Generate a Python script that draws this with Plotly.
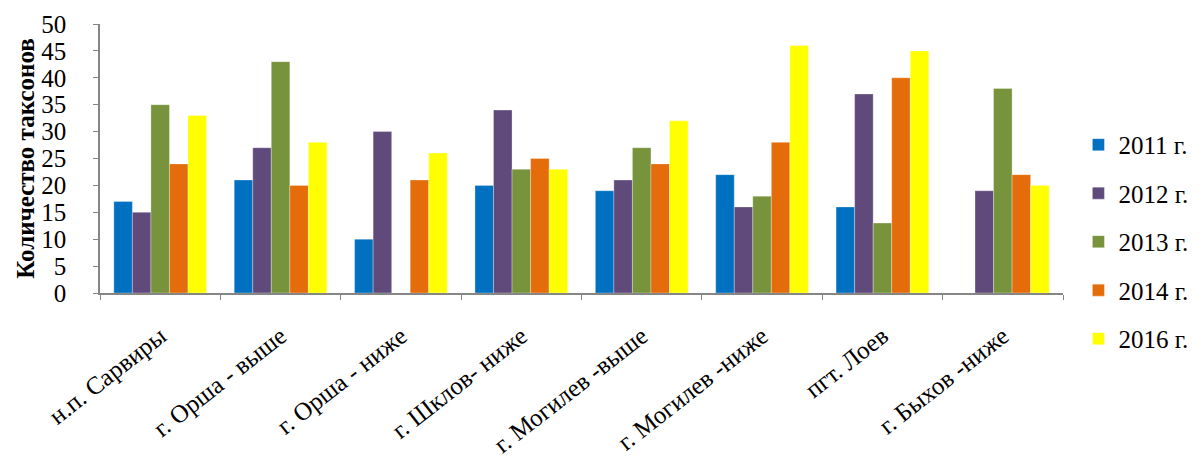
import plotly.graph_objects as go

categories = ["н.п. Сарвиры", "г. Орша - выше", "г. Орша - ниже", "г. Шклов- ниже",
              "г. Могилев -выше", "г. Могилев -ниже", "пгт. Лоев", "г. Быхов -ниже"]
y2011 = [17, 21, 10, 20, 19, 22, 16, None]
y2012 = [15, 27, 30, 34, 21, 16, 37, 19]
y2013 = [35, 43, None, 23, 27, 18, 13, 38]
y2014 = [24, 20, 21, 25, 24, 28, 40, 22]
y2016 = [33, 28, 26, 23, 32, 46, 45, 20]
series_names = ["2011 г.", "2012 г.", "2013 г.", "2014 г.", "2016 г."]
colors = ["#0070C0", "#604A7B", "#77933C", "#E46C0A", "#FFFF00"]

fig = go.Figure()
for i, (name, vals) in enumerate(zip(series_names, [y2011, y2012, y2013, y2014, y2016])):
    fig.add_trace(go.Bar(
        x=categories, y=vals, name=name, legendgroup=f"g{i}",
        marker=dict(color=colors[i], line=dict(width=0.6, color="rgba(255,255,255,0.5)")),
    ))

font_family = "Liberation Serif, Times New Roman, serif"
# page body has an 8px margin, so the figure is sized/offset accordingly
fig.update_layout(
    width=1194, height=451,
    margin=dict(l=92, r=139, t=16, b=166, autoexpand=False),
    paper_bgcolor="white", plot_bgcolor="white",
    barmode="group", bargap=0.23, bargroupgap=0,
    font=dict(family=font_family, color="black"),
    showlegend=True,
    legend=dict(x=1.016, xanchor="left", y=0.19, yanchor="middle",
                font=dict(family=font_family, size=25, color="black"),
                traceorder="grouped", tracegroupgap=13,
                itemwidth=30, bgcolor="rgba(0,0,0,0)"),
)
fig.update_xaxes(
    type="category", tickangle=-38, tickson="boundaries", automargin=False,
    ticks="outside", ticklen=5, tickcolor="#868686", ticklabelstandoff=17,
    showline=True, linecolor="#868686", linewidth=1.5,
    showgrid=False, tickfont=dict(family=font_family, size=25, color="black"),
)
fig.update_yaxes(
    range=[0, 50], dtick=5, ticks="outside", ticklen=5, tickcolor="#868686",
    ticklabelstandoff=22,
    showline=True, linecolor="#868686", linewidth=1.5, automargin=False,
    showgrid=False, zeroline=False,
    tickfont=dict(family=font_family, size=25, color="black"),
    title=dict(text="<b>Количество таксонов</b>",
               font=dict(family=font_family, size=25, color="black"), standoff=0),
)
fig.write_html("out.html")
